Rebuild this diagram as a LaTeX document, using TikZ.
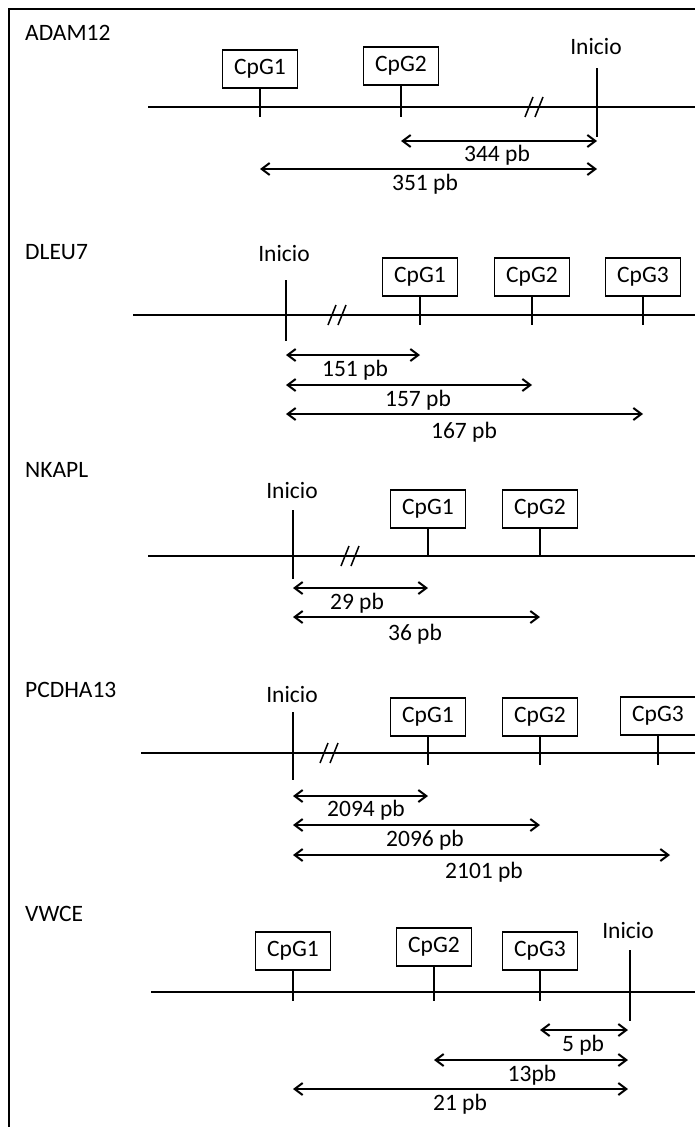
\documentclass[tikz,border=0pt]{standalone}
\usepackage{fontspec}
\setmainfont{Carlito}
\usetikzlibrary{arrows.meta}
\begin{document}
\begin{tikzpicture}[x=1pt,y=-1pt,
  every node/.style={font=\fontsize{23.5}{28}\selectfont, inner sep=0pt},
  cpg/.style={draw, line width=1.1pt, minimum width=75pt, minimum height=38pt, fill=white},
  dna/.style={line width=2.4pt},
  tick/.style={line width=1.8pt},
  dist/.style={line width=2pt, {Straight Barb[length=8pt,width=12pt]}-{Straight Barb[length=8pt,width=12pt]}},
  brk/.style={line width=1.5pt},
  frame/.style={line width=2.8pt}]
\useasboundingbox (0,0) rectangle (695,1127);
\coordinate (fB) at (9,1127); \coordinate (fC) at (9,9); \coordinate (fR) at (695,9);
\draw[frame] (fB) -- (fC) -- (fR);

% ---------- ADAM12 ----------
\node[anchor=west] (aG) at (25,33) {ADAM12};
\coordinate (aL) at (148,107); \coordinate (aR) at (695,107);
\draw[dna] (aL) -- (aR);
\coordinate (aBk) at (534,107);
\draw[brk] ([shift={(-9,10)}]aBk) -- ([shift={(-1,-10)}]aBk);
\draw[brk] ([shift={(1,10)}]aBk) -- ([shift={(9,-10)}]aBk);
\node[cpg] (a1) at (260,69) {CpG1};
\node[cpg] (a2) at (401,66) {CpG2};
\coordinate (a1t) at (260,117); \coordinate (a2t) at (401,117);
\draw[tick] (a1.south) -- (a1t);
\draw[tick] (a2.south) -- (a2t);
\node (aI) at (596,46) {Inicio};
\coordinate (aIt) at (597,68); \coordinate (aIb) at (597,137);
\draw[tick] (aIt) -- (aIb);
\coordinate (aD1L) at (401,141); \coordinate (aD1R) at (597,141);
\draw[dist] (aD1L) -- (aD1R);
\node (aD1) at (497,155) {344 pb};
\coordinate (aD2L) at (260,169); \coordinate (aD2R) at (597,169);
\draw[dist] (aD2L) -- (aD2R);
\node (aD2) at (425,184) {351 pb};

% ---------- DLEU7 ----------
\node[anchor=west] (dG) at (25,252) {DLEU7};
\coordinate (dL) at (133,315); \coordinate (dR) at (695,315);
\draw[dna] (dL) -- (dR);
\coordinate (dBk) at (337,315);
\draw[brk] ([shift={(-9,10)}]dBk) -- ([shift={(-1,-10)}]dBk);
\draw[brk] ([shift={(1,10)}]dBk) -- ([shift={(9,-10)}]dBk);
\node (dI) at (284,253) {Inicio};
\coordinate (dIt) at (286,280); \coordinate (dIb) at (286,341);
\draw[tick] (dIt) -- (dIb);
\node[cpg] (d1) at (420,277) {CpG1};
\node[cpg] (d2) at (532,277) {CpG2};
\node[cpg] (d3) at (643,277) {CpG3};
\coordinate (d1t) at (420,325); \coordinate (d2t) at (532,325); \coordinate (d3t) at (643,325);
\draw[tick] (d1.south) -- (d1t);
\draw[tick] (d2.south) -- (d2t);
\draw[tick] (d3.south) -- (d3t);
\coordinate (dD1L) at (286,355); \coordinate (dD1R) at (420,355);
\coordinate (dD2L) at (286,385); \coordinate (dD2R) at (532,385);
\coordinate (dD3L) at (286,414); \coordinate (dD3R) at (643,414);
\draw[dist] (dD1L) -- (dD1R);
\draw[dist] (dD2L) -- (dD2R);
\draw[dist] (dD3L) -- (dD3R);
\node (dD1) at (355,370) {151 pb};
\node (dD2) at (418,400) {157 pb};
\node (dD3) at (464,432) {167 pb};

% ---------- NKAPL ----------
\node[anchor=west] (nG) at (25,470) {NKAPL};
\coordinate (nL) at (148,556); \coordinate (nR) at (695,556);
\draw[dna] (nL) -- (nR);
\coordinate (nBk) at (350,556);
\draw[brk] ([shift={(-9,10)}]nBk) -- ([shift={(-1,-10)}]nBk);
\draw[brk] ([shift={(1,10)}]nBk) -- ([shift={(9,-10)}]nBk);
\node (nI) at (292,490) {Inicio};
\coordinate (nIt) at (293,510); \coordinate (nIb) at (293,579);
\draw[tick] (nIt) -- (nIb);
\node[cpg] (n1) at (428,509) {CpG1};
\node[cpg] (n2) at (540,509) {CpG2};
\coordinate (n1t) at (428,556); \coordinate (n2t) at (540,556);
\draw[tick] (n1.south) -- (n1t);
\draw[tick] (n2.south) -- (n2t);
\coordinate (nD1L) at (293,588); \coordinate (nD1R) at (428,588);
\coordinate (nD2L) at (293,617); \coordinate (nD2R) at (540,617);
\draw[dist] (nD1L) -- (nD1R);
\draw[dist] (nD2L) -- (nD2R);
\node (nD1) at (357,603) {29 pb};
\node (nD2) at (415,634) {36 pb};

% ---------- PCDHA13 ----------
\node[anchor=west] (pG) at (25,690) {PCDHA13};
\coordinate (pL) at (141,753); \coordinate (pR) at (695,753);
\draw[dna] (pL) -- (pR);
\coordinate (pBk) at (329,753);
\draw[brk] ([shift={(-9,10)}]pBk) -- ([shift={(-1,-10)}]pBk);
\draw[brk] ([shift={(1,10)}]pBk) -- ([shift={(9,-10)}]pBk);
\node (pI) at (292,694) {Inicio};
\coordinate (pIt) at (293,712); \coordinate (pIb) at (293,780);
\draw[tick] (pIt) -- (pIb);
\node[cpg] (p1) at (428,717) {CpG1};
\node[cpg] (p2) at (540,717) {CpG2};
\node[cpg] (p3) at (658,716) {CpG3};
\coordinate (p1t) at (428,765); \coordinate (p2t) at (540,765); \coordinate (p3t) at (658,765);
\draw[tick] (p1.south) -- (p1t);
\draw[tick] (p2.south) -- (p2t);
\draw[tick] (p3.south) -- (p3t);
\coordinate (pD1L) at (293,796); \coordinate (pD1R) at (428,796);
\coordinate (pD2L) at (293,825); \coordinate (pD2R) at (540,825);
\coordinate (pD3L) at (293,855); \coordinate (pD3R) at (670,855);
\draw[dist] (pD1L) -- (pD1R);
\draw[dist] (pD2L) -- (pD2R);
\draw[dist] (pD3L) -- (pD3R);
\node (pD1) at (366,810) {2094 pb};
\node (pD2) at (425,840) {2096 pb};
\node (pD3) at (484,872) {2101 pb};

% ---------- VWCE ----------
\node[anchor=west] (vG) at (25,914) {VWCE};
\coordinate (vL) at (151,992); \coordinate (vR) at (695,992);
\draw[dna] (vL) -- (vR);
\node[cpg] (v1) at (293,951) {CpG1};
\node[cpg] (v2) at (434,947) {CpG2};
\node[cpg] (v3) at (540,951) {CpG3};
\coordinate (v1t) at (293,1001); \coordinate (v2t) at (434,1001); \coordinate (v3t) at (540,1001);
\draw[tick] (v1.south) -- (v1t);
\draw[tick] (v2.south) -- (v2t);
\draw[tick] (v3.south) -- (v3t);
\node (vI) at (628,930) {Inicio};
\coordinate (vIt) at (630,950); \coordinate (vIb) at (630,1021);
\draw[tick] (vIt) -- (vIb);
\coordinate (vD1L) at (540,1030); \coordinate (vD1R) at (628,1030);
\coordinate (vD2L) at (434,1060); \coordinate (vD2R) at (628,1060);
\coordinate (vD3L) at (293,1089); \coordinate (vD3R) at (628,1089);
\draw[dist] (vD1L) -- (vD1R);
\draw[dist] (vD2L) -- (vD2R);
\draw[dist] (vD3L) -- (vD3R);
\node (vD1) at (583,1045) {5 pb};
\node (vD2) at (532,1075) {13pb};
\node (vD3) at (460,1104) {21 pb};
\end{tikzpicture}
\end{document}
